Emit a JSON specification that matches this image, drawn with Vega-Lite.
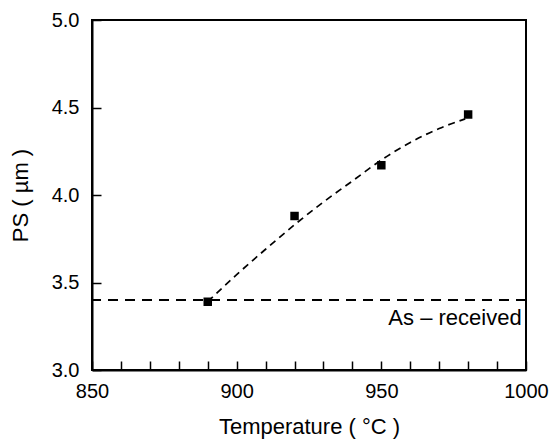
{
  "$schema": "https://vega.github.io/schema/vega-lite/v6.json",
  "width": 434,
  "height": 350,
  "autosize": {"type": "none"},
  "padding": {"left": 92, "top": 20, "right": 25, "bottom": 69},
  "background": "white",
  "config": {
    "view": {"stroke": "black", "strokeWidth": 2},
    "font": "Liberation Sans",
    "axis": {
      "grid": false,
      "domainColor": "black",
      "domainWidth": 2,
      "tickColor": "black",
      "tickWidth": 1.5,
      "tickSize": -9,
      "labelFont": "Liberation Sans",
      "labelFontSize": 20,
      "labelColor": "black",
      "labelOverlap": false,
      "titleFont": "Liberation Sans",
      "titleFontSize": 22,
      "titleFontWeight": "normal",
      "titleColor": "black"
    }
  },
  "datasets": {
    "points": [
      {"temp": 890, "ps": 3.39},
      {"temp": 920, "ps": 3.88},
      {"temp": 950, "ps": 4.17},
      {"temp": 980, "ps": 4.46}
    ],
    "curve": [
      {"temp": 890, "ps": 3.39},
      {"temp": 900, "ps": 3.545},
      {"temp": 910, "ps": 3.69},
      {"temp": 920, "ps": 3.83},
      {"temp": 930, "ps": 3.96},
      {"temp": 940, "ps": 4.08},
      {"temp": 950, "ps": 4.20},
      {"temp": 960, "ps": 4.30},
      {"temp": 970, "ps": 4.38},
      {"temp": 979, "ps": 4.435}
    ],
    "ref": [{"ps": 3.40, "temp": 998.5, "labelY": 3.30, "label": "As – received"}]
  },
  "layer": [
    {
      "data": {"name": "ref"},
      "mark": {"type": "rule", "color": "black", "strokeWidth": 2, "strokeDash": [10, 7]},
      "encoding": {
        "y": {"field": "ps", "type": "quantitative", "scale": {"domain": [3.0, 5.0]}}
      }
    },
    {
      "data": {"name": "ref"},
      "mark": {"type": "text", "align": "right", "baseline": "middle", "fontSize": 22, "font": "Liberation Sans", "color": "black"},
      "encoding": {
        "x": {"field": "temp", "type": "quantitative"},
        "y": {"field": "labelY", "type": "quantitative"},
        "text": {"field": "label"}
      }
    },
    {
      "data": {"name": "curve"},
      "mark": {"type": "line", "color": "black", "strokeWidth": 1.7, "strokeDash": [7, 5], "interpolate": "monotone"},
      "encoding": {
        "x": {"field": "temp", "type": "quantitative"},
        "y": {"field": "ps", "type": "quantitative"}
      }
    },
    {
      "data": {"name": "points"},
      "mark": {"type": "square", "filled": true, "color": "black", "size": 72, "opacity": 1},
      "encoding": {
        "x": {
          "field": "temp",
          "type": "quantitative",
          "scale": {"domain": [850, 1000], "nice": false, "zero": false},
          "axis": {
            "title": "Temperature ( °C )",
            "values": [850, 860, 870, 880, 890, 900, 910, 920, 930, 940, 950, 960, 970, 980, 990, 1000],
            "tickCount": 20,
            "format": "d",
            "labelExpr": "datum.value % 50 === 0 ? datum.label : ''",
            "labelPadding": 20,
            "titlePadding": 15,
            "labelFlush": false,
            "labelOverlap": false
          }
        },
        "y": {
          "field": "ps",
          "type": "quantitative",
          "scale": {"domain": [3.0, 5.0], "nice": false, "zero": false},
          "axis": {
            "title": "PS ( µm )",
            "values": [3.0, 3.5, 4.0, 4.5, 5.0],
            "tickCount": 10,
            "format": ".1f",
            "labelPadding": 22,
            "titlePadding": 19,
            "labelFlush": false,
            "labelOverlap": false
          }
        }
      }
    }
  ]
}
